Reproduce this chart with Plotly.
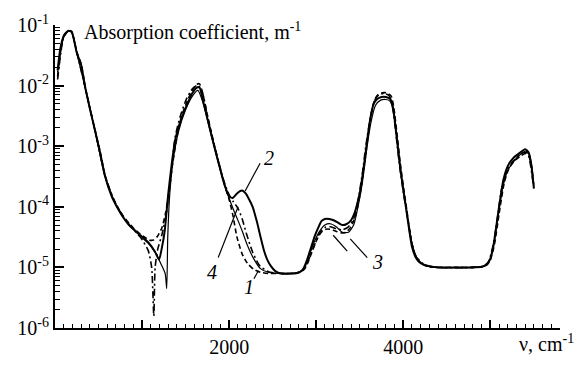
import plotly.graph_objects as go

# ---- data (wavenumber, cm^-1 ; absorption coefficient, m^-1) ----
x1 = [30, 60, 100, 150, 190, 250, 300, 350, 400, 460, 520, 575, 650, 700, 780,
      850, 900, 980, 1030, 1080, 1130, 1180, 1230, 1270, 1310, 1350, 1400, 1450, 1520, 1580,
      1630, 1660, 1700, 1760, 1820, 1880, 1930, 1970, 2000, 2040, 2090, 2150, 2210, 2280, 2360,
      2450, 2600, 2700, 2780, 2830, 2870, 2910, 2950, 2990, 3030, 3070, 3110, 3160, 3220, 3280,
      3340, 3400, 3450, 3490, 3520, 3560, 3600, 3630, 3670, 3710, 3760, 3810, 3860, 3890, 3930,
      3970, 4010, 4040, 4070, 4110, 4160, 4220, 4300, 4400, 4600, 4800, 4900, 4960, 5000, 5050,
      5100, 5160, 5210, 5270, 5340, 5400, 5440, 5470, 5500]
y1 = [1.41e-2, 3.55e-2, 6.6e-2, 8.0e-2, 7.8e-2, 3.63e-2, 2.29e-2, 9.1e-3, 4.27e-3, 1.86e-3,
      7.94e-4, 3.31e-4, 1.58e-4, 1.12e-4, 7.08e-5, 5.37e-5, 4.47e-5, 3.55e-5, 3.16e-5, 2.82e-5,
      2.82e-5, 3.3e-5, 4.6e-5, 7.94e-5, 1.78e-4, 5.0e-4, 1.41e-3, 3.02e-3, 5.62e-3, 8.51e-3,
      1.05e-2, 1.07e-2, 7.08e-3, 2.82e-3, 1.2e-3, 5.37e-4, 2.82e-4, 1.78e-4, 1.32e-4, 7.59e-5,
      3.16e-5, 1.66e-5, 1.17e-5, 9.33e-6, 8.32e-6, 7.94e-6, 7.94e-6, 7.94e-6, 8.13e-6, 8.51e-6,
      9.55e-6, 1.26e-5, 1.78e-5, 2.51e-5, 3.31e-5, 3.98e-5, 4.27e-5, 4.27e-5, 3.98e-5, 3.72e-5,
      3.8e-5, 4.68e-5, 7.08e-5, 1.26e-4, 2.24e-4, 5.62e-4, 1.66e-3, 3.31e-3, 5.75e-3, 7.08e-3,
      7.59e-3, 7.59e-3, 6.76e-3, 4.47e-3, 1.51e-3, 4.68e-4, 1.78e-4, 8.91e-5, 4.47e-5, 2.09e-5,
      1.35e-5, 1.12e-5, 1.02e-5, 1.0e-5, 1.0e-5, 1.0e-5, 1.02e-5, 1.1e-5, 1.32e-5, 2.51e-5,
      7.59e-5, 2.51e-4, 4.17e-4, 5.62e-4, 6.76e-4, 7.59e-4, 7.08e-4, 4.79e-4, 2.09e-4]

x2 = [30, 60, 100, 150, 190, 250, 300, 350, 400, 460, 520, 575, 650, 700, 780,
      850, 900, 980, 1070, 1150, 1195, 1230, 1260, 1300, 1340, 1380, 1450, 1520, 1580, 1630,
      1660, 1700, 1760, 1820, 1880, 1930, 1970, 2000, 2040, 2080, 2120, 2150, 2190, 2230, 2270,
      2320, 2360, 2400, 2440, 2480, 2530, 2600, 2700, 2780, 2830, 2860, 2900, 2940, 2980, 3020,
      3060, 3100, 3150, 3200, 3250, 3300, 3350, 3400, 3440, 3480, 3510, 3550, 3590, 3620, 3660,
      3700, 3750, 3800, 3850, 3880, 3920, 3960, 4000, 4030, 4060, 4100, 4150, 4200, 4300, 4400,
      4600, 4800, 4900, 4960, 5000, 5040, 5090, 5150, 5200, 5260, 5330, 5400, 5440, 5470, 5500]
y2 = [1.78e-2, 3.98e-2, 6.6e-2, 8.0e-2, 7.8e-2, 3.5e-2, 2.2e-2, 8.9e-3, 4.2e-3, 1.8e-3,
      7.6e-4, 3.2e-4, 1.5e-4, 1.07e-4, 6.8e-5, 5.0e-5, 4.3e-5, 3.4e-5, 2.6e-5, 1.8e-5,
      1.35e-5, 2.2e-5, 4.0e-5, 1.6e-4, 5.0e-4, 1.26e-3, 2.8e-3, 5.0e-3, 7.6e-3, 9.3e-3,
      9.3e-3, 5.6e-3, 2.5e-3, 1.12e-3, 5.2e-4, 2.8e-4, 1.86e-4, 1.5e-4, 1.4e-4, 1.6e-4,
      1.8e-4, 1.86e-4, 1.66e-4, 1.32e-4, 1.0e-4, 5.6e-5, 3.2e-5, 1.9e-5, 1.32e-5, 1.05e-5,
      8.7e-6, 7.9e-6, 7.9e-6, 8.1e-6, 8.7e-6, 1.0e-5, 1.4e-5, 2.1e-5, 3.2e-5, 4.4e-5,
      5.8e-5, 6.3e-5, 6.3e-5, 6.0e-5, 5.5e-5, 5.0e-5, 5.2e-5, 6.0e-5, 7.9e-5, 1.26e-4,
      2.0e-4, 5.0e-4, 1.4e-3, 2.8e-3, 5.0e-3, 6.0e-3, 6.5e-3, 6.5e-3, 6.0e-3, 4.5e-3,
      1.6e-3, 5.0e-4, 1.9e-4, 1.0e-4, 5.0e-5, 2.2e-5, 1.4e-5, 1.17e-5, 1.05e-5, 1.0e-5,
      1.0e-5, 1.0e-5, 1.02e-5, 1.12e-5, 1.4e-5, 2.5e-5, 7.9e-5, 2.8e-4, 4.7e-4, 6.3e-4,
      7.6e-4, 8.9e-4, 7.9e-4, 5.0e-4, 2.0e-4]

x3 = [30, 100, 150, 190, 250, 350, 460, 575, 700, 850, 980, 1070, 1150, 1220, 1265,
      1283, 1295, 1320, 1360, 1420, 1500, 1580, 1640, 1700, 1760, 1830, 1900, 1960, 2000, 2050,
      2100, 2150, 2200, 2280, 2360, 2450, 2600, 2780, 2860, 2920, 2980, 3040, 3100, 3160, 3230,
      3300, 3370, 3430, 3480, 3530, 3580, 3630, 3680, 3740, 3800, 3850, 3890, 3930, 3970, 4010,
      4050, 4100, 4160, 4250, 4400, 4800, 4920, 4980, 5030, 5080, 5140, 5200, 5270, 5350, 5410,
      5450, 5480, 5500]
y3 = [1.66e-2, 6.3e-2, 7.8e-2, 7.6e-2, 3.47e-2, 8.71e-3, 1.78e-3, 3.16e-4, 1.07e-4, 5.0e-5,
      3.31e-5, 2.51e-5, 1.78e-5, 1.12e-5, 7.94e-6, 4.47e-6, 3.16e-5, 1.78e-4, 6.31e-4, 1.78e-3,
      3.98e-3, 6.76e-3, 8.32e-3, 5.25e-3, 2.4e-3, 9.55e-4, 3.98e-4, 2.0e-4, 1.38e-4, 8.91e-5,
      6.03e-5, 3.98e-5, 2.51e-5, 1.41e-5, 9.55e-6, 8.32e-6, 7.94e-6, 8.13e-6, 9.55e-6, 1.58e-5,
      2.69e-5, 3.98e-5, 5.0e-5, 5.25e-5, 4.68e-5, 3.8e-5, 3.8e-5, 5.0e-5, 1.0e-4, 2.51e-4,
      8.91e-4, 2.51e-3, 4.68e-3, 5.75e-3, 5.89e-3, 5.5e-3, 3.55e-3, 1.26e-3, 3.98e-4, 1.58e-4,
      6.61e-5, 2.51e-5, 1.41e-5, 1.07e-5, 1.0e-5, 1.0e-5, 1.05e-5, 1.2e-5, 2.0e-5, 5.62e-5,
      2.0e-4, 3.98e-4, 5.62e-4, 7.41e-4, 8.32e-4, 7.08e-4, 4.17e-4, 2.24e-4]

x4 = [30, 100, 150, 190, 250, 350, 460, 575, 700, 850, 980, 1070, 1110, 1135, 1150,
      1180, 1230, 1280, 1330, 1380, 1440, 1510, 1580, 1640, 1690, 1750, 1820, 1890, 1950, 2000,
      2050, 2100, 2150, 2200, 2270, 2350, 2450, 2600, 2780, 2860, 2920, 2980, 3040, 3100, 3160,
      3230, 3300, 3370, 3430, 3480, 3530, 3570, 3620, 3670, 3720, 3780, 3840, 3880, 3920, 3960,
      4000, 4040, 4090, 4150, 4250, 4400, 4800, 4920, 4980, 5030, 5080, 5130, 5190, 5260, 5330,
      5390, 5430, 5460, 5490]
y4 = [1.26e-2, 6.4e-2, 7.9e-2, 7.7e-2, 3.55e-2, 8.91e-3, 1.82e-3, 3.24e-4, 1.1e-4, 5.13e-5,
      3.16e-5, 1.91e-5, 1.0e-5, 1.58e-6, 1.0e-5, 2.0e-5, 3.55e-5, 7.94e-5, 3.16e-4, 1.41e-3,
      3.16e-3, 6.03e-3, 8.91e-3, 1.02e-2, 7.94e-3, 3.16e-3, 1.17e-3, 4.79e-4, 2.4e-4, 1.58e-4,
      1.2e-4, 9.55e-5, 6.31e-5, 3.55e-5, 1.78e-5, 1.07e-5, 8.51e-6, 7.94e-6, 8.13e-6, 9.33e-6,
      1.41e-5, 2.34e-5, 3.72e-5, 4.57e-5, 4.68e-5, 4.37e-5, 4.17e-5, 4.68e-5, 6.31e-5, 1.26e-4,
      3.55e-4, 1.0e-3, 2.82e-3, 5.62e-3, 7.08e-3, 7.41e-3, 6.76e-3, 4.17e-3, 1.41e-3, 4.47e-4,
      1.78e-4, 7.94e-5, 2.82e-5, 1.48e-5, 1.1e-5, 1.0e-5, 1.0e-5, 1.05e-5, 1.26e-5, 2.24e-5,
      6.31e-5, 2.0e-4, 3.98e-4, 5.62e-4, 7.08e-4, 7.94e-4, 7.59e-4, 5.0e-4, 2.51e-4]

x_tickvals = [1000, 2000, 3000, 4000, 5000]
x_ticktext = ["", "2000", "", "4000", ""]
y_exponents = [-6, -5, -4, -3, -2, -1]
y_tickvals = [10.0 ** e for e in y_exponents]
y_ticktext = ["10<sup>%d</sup>" % e for e in y_exponents]
y_minor = [m * 10.0 ** e for e in y_exponents[:-1] for m in range(2, 10)]

# curve labels: (text, x, log10 y)
curve_labels = [("1", 2225, -5.33), ("2", 2455, -3.2), ("3", 3705, -4.91), ("4", 1805, -5.07)]
# leader lines: (x0, y0, x1, y1)
leaders = [(2285, 6.5e-6, 2335, 8.8e-6),
           (2356, 5.25e-4, 2184, 1.82e-4),
           (1874, 1.45e-5, 2103, 1.0e-4),
           (3195, 3.39e-5, 3356, 1.86e-5),
           (3391, 2.95e-5, 3586, 1.45e-5)]

SERIF = "Liberation Serif"

fig = go.Figure()
fig.add_trace(go.Scatter(x=x1, y=y1, mode="lines", name="1",
                         line=dict(color="black", width=1.6, dash="5px,3px", shape="spline", smoothing=0.6)))
fig.add_trace(go.Scatter(x=x4, y=y4, mode="lines", name="4",
                         line=dict(color="black", width=1.6, dash="7px,3px,2px,3px", shape="spline", smoothing=0.6)))
fig.add_trace(go.Scatter(x=x3, y=y3, mode="lines", name="3",
                         line=dict(color="black", width=1.2, shape="spline", smoothing=0.6)))
fig.add_trace(go.Scatter(x=x2, y=y2, mode="lines", name="2",
                         line=dict(color="black", width=2.0, shape="spline", smoothing=0.6)))

for (t, xv, ly) in curve_labels:
    fig.add_annotation(x=xv, y=ly, text="<i>" + t + "</i>", showarrow=False,
                       font=dict(family=SERIF, size=20, color="black"))

for (xa, ya, xb, yb) in leaders:
    fig.add_shape(type="line", xref="x", yref="y", x0=xa, y0=ya, x1=xb, y1=yb,
                  line=dict(color="black", width=1.2))

fig.add_annotation(xref="paper", yref="paper", x=0.054, y=0.978, xanchor="left", yanchor="middle",
                   text="Absorption coefficient, m<sup>-1</sup>", showarrow=False,
                   font=dict(family=SERIF, size=20, color="black"))
fig.add_annotation(xref="paper", yref="paper", x=1, y=0, xanchor="right", yanchor="middle",
                   xshift=16, yshift=-15, text="ν, cm<sup>-1</sup>", showarrow=False,
                   font=dict(family=SERIF, size=20, color="black"))

fig.update_layout(
    width=576, height=370,
    margin=dict(l=55, r=16, t=16, b=27),
    paper_bgcolor="white", plot_bgcolor="white",
    showlegend=False,
    font=dict(family=SERIF, color="black"),
    xaxis=dict(range=[0, 5800], showgrid=False, zeroline=False,
               showline=True, linecolor="black", linewidth=2,
               tickmode="array", tickvals=x_tickvals, ticktext=x_ticktext,
               ticks="inside", ticklen=8, tickwidth=1.5, tickcolor="black",
               minor=dict(ticks="inside", ticklen=4, dtick=100, tickwidth=1.2, tickcolor="black", showgrid=False),
               tickfont=dict(family=SERIF, size=20, color="black")),
    yaxis=dict(type="log", range=[-6, -1], showgrid=False, zeroline=False,
               showline=True, linecolor="black", linewidth=2,
               tickmode="array", tickvals=y_tickvals, ticktext=y_ticktext,
               ticks="inside", ticklen=9, tickwidth=1.5, tickcolor="black",
               minor=dict(ticks="inside", ticklen=5, tickmode="array", tickvals=y_minor,
                          tickwidth=1.2, tickcolor="black", showgrid=False),
               tickfont=dict(family=SERIF, size=20, color="black")),
)

fig.write_html("out.html")
